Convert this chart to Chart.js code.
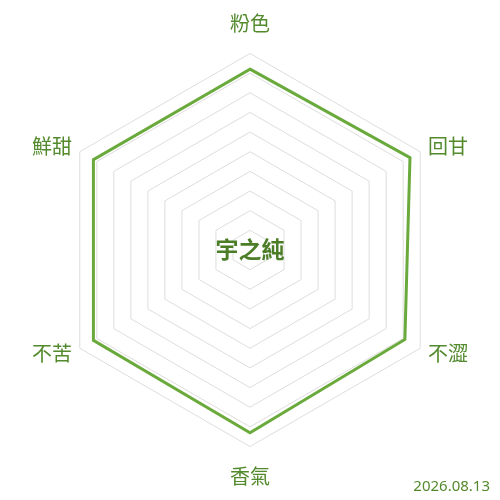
<!DOCTYPE html>
<html>
<head>
<meta charset="utf-8">
<script src="https://cdn.jsdelivr.net/npm/chart.js@4"></script>
<style>
  html, body { margin: 0; padding: 0; background: #fff; }
  #wrap { width: 500px; height: 500px; position: relative; }
</style>
</head>
<body>
<div id="wrap"><canvas id="myChart"></canvas></div>
<script>
// --- data ---
const labels = ['粉色', '回甘', '不澀', '香氣', '不苦', '鮮甜'];
const scores = [9.2, 9.4, 9.1, 9.3, 9.2, 9.2];
const brandName = '宇之純';
const dateText = '2026.08.13';

const green = '#6aaa3c';
const darkGreen = '#538a2d';

// centre title + date in the corner
const extraText = {
    id: 'extraText',
    afterDraw(chart) {
        const ctx = chart.ctx;
        const r = chart.scales.r;
        ctx.save();
        ctx.fillStyle = '#4c7d27';
        ctx.font = 'bold 23px "Noto Sans CJK TC"';
        ctx.textAlign = 'center';
        ctx.textBaseline = 'middle';
        ctx.fillText(brandName, r.xCenter, r.yCenter - 1);

        ctx.fillStyle = darkGreen;
        ctx.font = '15px "Noto Sans"';
        ctx.textAlign = 'right';
        ctx.textBaseline = 'alphabetic';
        ctx.fillText(dateText, 490, 491);
        ctx.restore();
    }
};

// top / bottom labels sit further out than the side ones
function isTopBottom(i) { return i === 0 || i === 3; }

new Chart(document.getElementById('myChart'), {
    type: 'radar',
    data: {
        labels: labels,
        datasets: [{
            data: scores,
            borderColor: green,
            backgroundColor: 'rgba(0,0,0,0)',
            borderWidth: 3,
            pointRadius: 0,
            fill: false
        }]
    },
    options: {
        responsive: true,
        maintainAspectRatio: false,
        animation: false,
        layout: { padding: { left: 32, right: 32, top: 0, bottom: 0 } },
        plugins: {
            legend: { display: false },
            tooltip: { enabled: false }
        },
        scales: {
            r: {
                min: 0,
                max: 10,
                ticks: { display: false, stepSize: 1 },
                angleLines: { display: false },
                grid: { color: '#dddddd', lineWidth: 1 },
                pointLabels: {
                    color: darkGreen,
                    padding: (c) => isTopBottom(c.index) ? 18 : 9,
                    font: (c) => ({
                        family: '"Noto Sans CJK TC"',
                        size: 20,
                        lineHeight: isTopBottom(c.index) ? 1.2 : '2px'
                    })
                }
            }
        }
    },
    plugins: [extraText]
});
</script>
</body>
</html>
